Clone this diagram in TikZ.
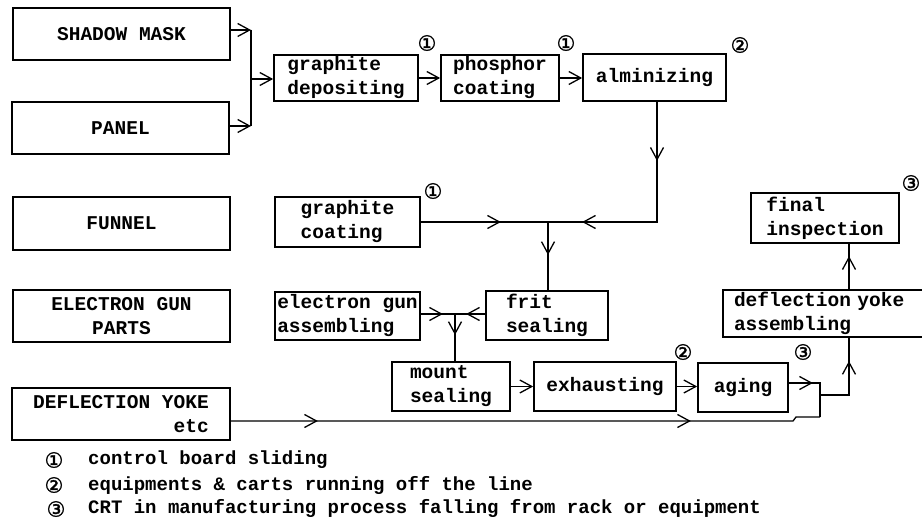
\documentclass[tikz,border=0pt]{standalone}
\usepackage{fontspec}
\usetikzlibrary{arrows.meta,decorations.markings}
\newfontfamily\boxfont{Liberation Mono}
\newfontfamily\circfont[FakeBold=1.5]{DejaVu Sans}
\begin{document}
\begin{tikzpicture}[x=1pt,y=-1pt,
  >={Straight Barb[length=12pt,width=13pt]},
  pbox/.style={draw,line width=1.7pt,inner sep=0pt,align=left,
    font=\boxfont\bfseries\fontsize{19.5}{24}\selectfont},
  conn/.style={line width=1.3pt},
  arrat/.style={postaction={decorate,decoration={markings,mark=at position #1 with {\arrow{>}}}}},
  num/.style={font=\circfont\fontsize{21}{21}\selectfont,inner sep=0pt},
  legend/.style={anchor=base west,inner sep=0pt,
    font=\boxfont\bfseries\fontsize{19}{19}\selectfont}]
\useasboundingbox (0,0) rectangle (922,521);
% boxes
\node[pbox,minimum width=217pt,minimum height=52pt] (sm) at (121.5,34) {SHADOW MASK};
\node[pbox,minimum width=217pt,minimum height=52pt] (pan) at (120.5,128) {PANEL};
\node[pbox,minimum width=144pt,minimum height=46pt] (gd) at (346,78) {graphite\\depositing};
\node[pbox,minimum width=118pt,minimum height=46pt] (pc) at (500,78) {phosphor\\coating};
\node[pbox,minimum width=143pt,minimum height=47pt] (alm) at (654.5,77.5) {alminizing};
\node[pbox,minimum width=217pt,minimum height=53pt] (fun) at (121.5,223.5) {FUNNEL};
\node[pbox,minimum width=145pt,minimum height=50pt] (gc) at (347.5,222) {graphite\\coating};
\node[pbox,align=center,minimum width=217pt,minimum height=52pt] (egp) at (121.5,316) {ELECTRON GUN\\PARTS};
\node[pbox,minimum width=145pt,minimum height=48pt] (ega) at (347.5,316) {electron gun\\assembling};
\node[pbox,minimum width=122pt,minimum height=49pt] (fs) at (547,315.5) {frit\\sealing};
\node[pbox,minimum width=118pt,minimum height=49pt] (ms) at (451,386.5) {mount\\sealing};
\node[pbox,minimum width=142pt,minimum height=49pt] (exh) at (605,386.5) {exhausting};
\node[pbox,minimum width=90pt,minimum height=49pt] (agi) at (743,387.5) {aging};
\node[pbox,inner xsep=11pt,text width=200pt,minimum height=47pt] (dya) at (834,313.5) {deflection yoke\\assembling};
\node[pbox,minimum width=148pt,minimum height=50pt] (fi) at (825,218) {final\\inspection};
\node[pbox,align=right,minimum width=218pt,minimum height=52pt] (dy) at (121,414) {DEFLECTION YOKE\\etc};
% connectors
\coordinate (j0t) at (251,30);
\coordinate (j0b) at (251,126);
\coordinate (j0) at (251,79);
\draw[conn,->] (sm.east |- j0t) -- (j0t);
\draw[conn,->] (pan.east |- j0b) -- (j0b);
\draw[conn] (j0t) -- (j0b);
\draw[conn,->] (j0) -- (gd.west |- j0);
\draw[conn,->] (gd.east) -- (gd.east -| pc.west);
\draw[conn,->] (pc.east) -- (pc.east -| alm.west);
\coordinate (a1) at (657,222);
\coordinate (j1) at (548,222);
\draw[conn,arrat=59pt,arrat=195pt] (alm.south -| a1) -- (a1) -- (j1);
\draw[conn,arrat=80pt] (gc.east |- j1) -- (j1);
\draw[conn,arrat=33pt] (j1) -- (j1 |- fs.north);
\coordinate (j2) at (455,314);
\draw[conn,arrat=22pt] (ega.east |- j2) -- (j2);
\draw[conn,arrat=19pt] (fs.west |- j2) -- (j2);
\draw[conn,arrat=21pt] (j2) -- (j2 |- ms.north);
\draw[conn,->] (ms.east) -- (ms.east -| exh.west);
\draw[conn,->] (exh.east) -- (exh.east -| agi.west);
\coordinate (j3t) at (820,383);
\coordinate (j3b) at (820,417);
\coordinate (j3m) at (820,395);
\coordinate (d1) at (793,421);
\coordinate (d2) at (796,417);
\coordinate (k1) at (849,395);
\draw[conn,arrat=24pt] (agi.east |- j3t) -- (j3t) -- (j3b);
\draw[conn,arrat=87pt,arrat=460pt] (dy.east |- d1) -- (d1) -- (d2) -- (j3b);
\draw[conn,arrat=63pt] (j3m) -- (k1) -- (k1 |- dya.south);
\draw[conn,arrat=33pt] (dya.north -| k1) -- (k1 |- fi.south);
% circled numbers
\node[num] (n1) at (427,43) {①};
\node[num] (n2) at (566,43) {①};
\node[num] (n3) at (740,45) {②};
\node[num] (n4) at (433,191) {①};
\node[num] (n5) at (683,352) {②};
\node[num] (n6) at (803,352) {③};
\node[num] (n7) at (911,183) {③};
% legend
\node[num] (l1n) at (54,460) {①};
\node[num] (l2n) at (54,485) {②};
\node[num] (l3n) at (56,509) {③};
\node[legend] (l1) at (88,465) {control board sliding};
\node[legend] (l2) at (88,490) {equipments \& carts running off the line};
\node[legend] (l3) at (88,514) {CRT in manufacturing process falling from rack or equipment};
\end{tikzpicture}
\end{document}
